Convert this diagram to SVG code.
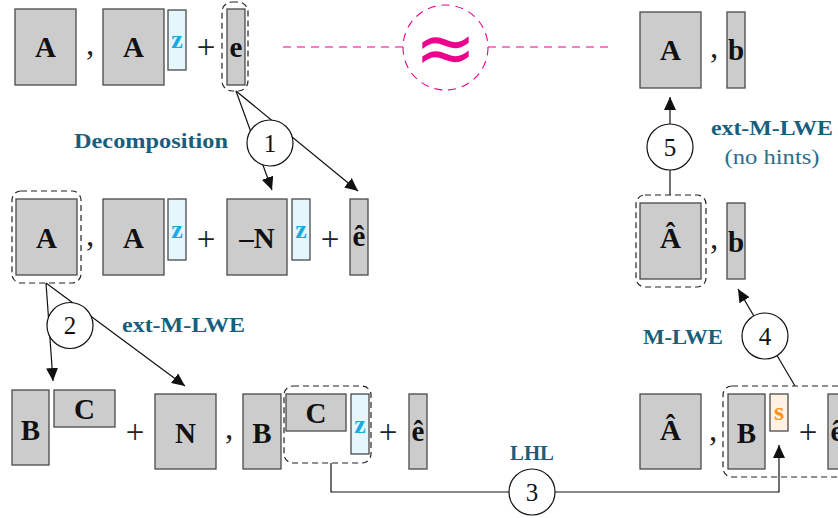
<svg xmlns="http://www.w3.org/2000/svg" width="838" height="518" viewBox="0 0 838 518">
<defs>
<marker id="arr" markerUnits="userSpaceOnUse" markerWidth="14" markerHeight="12" refX="13" refY="6" orient="auto">
<path d="M0,0 L13,6 L0,12 Z" fill="#111"/>
</marker>
<style>
.box{fill:#cccccc;stroke:#4a4a4a;stroke-width:1.3}
.zb{fill:#e6f6fd;stroke:#4a4a4a;stroke-width:1.3}
.sb{fill:#fff2e5;stroke:#4a4a4a;stroke-width:1.3}
.dash{fill:none;stroke:#222;stroke-width:1.2;stroke-dasharray:6 4}
.t{font-family:"Liberation Serif",serif;font-weight:bold;font-size:29px;text-anchor:middle;dominant-baseline:central;fill:#111}
.zt{font-family:"Liberation Serif",serif;font-weight:bold;font-size:26px;text-anchor:middle;dominant-baseline:central;fill:#1aa9e1}
.st{font-family:"Liberation Serif",serif;font-weight:bold;font-size:26px;text-anchor:middle;dominant-baseline:central;fill:#f7941d}
.op{font-family:"Liberation Serif",serif;font-size:33px;text-anchor:middle;dominant-baseline:central;fill:#222}
.lbl{font-family:"Liberation Serif",serif;font-weight:bold;font-size:21px;fill:#185f7e;text-anchor:middle}
.sub{font-family:"Liberation Serif",serif;font-size:20px;fill:#2a6f8c;text-anchor:middle}
.num{font-family:"Liberation Serif",serif;font-size:25px;text-anchor:middle;dominant-baseline:central;fill:#111}
.conn{stroke:#111;stroke-width:1.2;fill:none}
.circ{fill:#fff;stroke:#111;stroke-width:1.2}
.pink{fill:none;stroke:#ec008c;stroke-width:1.1;stroke-dasharray:8 6}
</style>
</defs>

<!-- top row left -->
<g id="top-A1"><rect class="box" x="15" y="9" width="61" height="76"/><text class="t" x="45.5" y="47">A</text></g>
<text class="op" x="90" y="44">,</text>
<g id="top-A2"><rect class="box" x="103" y="9" width="61" height="76"/><text class="t" x="133.5" y="47">A</text></g>
<g id="top-z"><rect class="zb" x="168" y="10" width="18" height="60"/><text class="zt" x="177" y="39">z</text></g>
<text class="op" x="206" y="47">+</text>
<g id="top-e"><rect class="box" x="227" y="9" width="18" height="76"/><text class="t" x="236" y="47">e</text>
<rect class="dash" x="222" y="2" width="26" height="89" rx="10"/></g>

<!-- approx -->
<g id="approx">
<line class="pink" x1="283" y1="47" x2="403" y2="47"/>
<line class="pink" x1="488" y1="47" x2="608" y2="47"/>
<circle cx="445.5" cy="47.5" r="42.5" fill="none" stroke="#ec008c" stroke-width="1.1" stroke-dasharray="8 6"/>
<text x="445.5" y="47" font-family="DejaVu Sans, sans-serif" font-size="74" fill="#ec008c" text-anchor="middle" dominant-baseline="central">≈</text>
</g>

<!-- top right -->
<g id="tr-A"><rect class="box" x="640" y="12" width="61" height="76"/><text class="t" x="670.5" y="50">A</text></g>
<text class="op" x="714" y="47">,</text>
<g id="tr-b"><rect class="box" x="727" y="12" width="18" height="76"/><text class="t" x="736" y="50">b</text></g>

<!-- middle row left -->
<g id="mid-A1"><rect class="box" x="16" y="199" width="61" height="76"/><text class="t" x="46.5" y="238">A</text>
<rect class="dash" x="12" y="191" width="69" height="92" rx="9"/></g>
<text class="op" x="90" y="235">,</text>
<g id="mid-A2"><rect class="box" x="103" y="199" width="61" height="76"/><text class="t" x="133.5" y="238">A</text></g>
<g id="mid-z1"><rect class="zb" x="168" y="199" width="18" height="61"/><text class="zt" x="177" y="229">z</text></g>
<text class="op" x="206" y="239">+</text>
<g id="mid-N"><rect class="box" x="227" y="199" width="60" height="76"/><text class="t" x="257" y="238">–N</text></g>
<g id="mid-z2"><rect class="zb" x="292" y="199" width="18" height="61"/><text class="zt" x="301" y="229">z</text></g>
<text class="op" x="330" y="239">+</text>
<g id="mid-ehat"><rect class="box" x="350" y="199" width="18" height="76"/><text class="t" x="359" y="236">ê</text></g>

<!-- middle right -->
<g id="mr-Ahat"><rect class="box" x="640" y="203" width="61" height="76"/><text class="t" x="670.5" y="238">Â</text>
<rect class="dash" x="636" y="195" width="70" height="92" rx="9"/></g>
<text class="op" x="714" y="238">,</text>
<g id="mr-b"><rect class="box" x="727" y="203" width="18" height="76"/><text class="t" x="736" y="242">b</text></g>

<!-- bottom row left -->
<g id="bot-B1"><rect class="box" x="12" y="390" width="37" height="75"/><text class="t" x="30.5" y="430">B</text></g>
<g id="bot-C1"><rect class="box" x="54" y="390" width="61" height="37"/><text class="t" x="84.5" y="409">C</text></g>
<text class="op" x="135" y="432">+</text>
<g id="bot-N"><rect class="box" x="155" y="394" width="61" height="75"/><text class="t" x="185.5" y="433">N</text></g>
<text class="op" x="229" y="428">,</text>
<g id="bot-B2"><rect class="box" x="243" y="394" width="38" height="75"/><text class="t" x="262" y="433">B</text></g>
<g id="bot-C2"><rect class="box" x="286" y="394" width="60" height="37"/><text class="t" x="316" y="413">C</text></g>
<g id="bot-z"><rect class="zb" x="351" y="394" width="18" height="60"/><text class="zt" x="360" y="424">z</text></g>
<rect id="bot-group" class="dash" x="284" y="386" width="87" height="77" rx="9"/>
<text class="op" x="388" y="432">+</text>
<g id="bot-ehat"><rect class="box" x="409" y="394" width="18" height="75"/><text class="t" x="418" y="431">ê</text></g>

<!-- bottom right -->
<g id="br-Ahat"><rect class="box" x="640" y="394" width="61" height="75"/><text class="t" x="670.5" y="430">Â</text></g>
<text class="op" x="713" y="430">,</text>
<g id="br-B"><rect class="box" x="728" y="394" width="37" height="75"/><text class="t" x="746.5" y="433">B</text></g>
<g id="br-s"><rect class="sb" x="770" y="394" width="18" height="37"/><text class="st" x="779" y="411">s</text></g>
<text class="op" x="808" y="432">+</text>
<g id="br-ehat"><rect class="box" x="828" y="394" width="18" height="75"/><text class="t" x="837" y="431">ê</text></g>
<rect id="br-group" class="dash" x="723" y="386" width="130" height="91" rx="9"/>

<!-- connectors -->
<g id="connectors">
<line class="conn" x1="236" y1="91" x2="272" y2="190" marker-end="url(#arr)"/>
<line class="conn" x1="236" y1="91" x2="358" y2="191" marker-end="url(#arr)"/>
<line class="conn" x1="46" y1="283" x2="53" y2="381" marker-end="url(#arr)"/>
<line class="conn" x1="46" y1="283" x2="185" y2="386" marker-end="url(#arr)"/>
<polyline class="conn" points="331,463 331,492 779,492 779,445" marker-end="url(#arr)"/>
<line class="conn" x1="795" y1="386" x2="738" y2="289" marker-end="url(#arr)"/>
<line class="conn" x1="670" y1="195" x2="670" y2="97" marker-end="url(#arr)"/>
</g>

<!-- step circles -->
<g id="step1"><circle class="circ" cx="270" cy="143" r="23"/><text class="num" x="270" y="143">1</text></g>
<g id="step2"><circle class="circ" cx="70" cy="325.5" r="23"/><text class="num" x="70" y="325.5">2</text></g>
<g id="step3"><circle class="circ" cx="532" cy="492" r="23"/><text class="num" x="532" y="492">3</text></g>
<g id="step4"><circle class="circ" cx="765" cy="336" r="23"/><text class="num" x="765" y="336">4</text></g>
<g id="step5"><circle class="circ" cx="670" cy="147" r="23"/><text class="num" x="670" y="147">5</text></g>

<!-- labels -->
<text class="lbl" x="151" y="148" textLength="154" lengthAdjust="spacingAndGlyphs">Decomposition</text>
<text class="lbl" x="183.5" y="332" textLength="123" lengthAdjust="spacingAndGlyphs">ext-M-LWE</text>
<text class="lbl" x="772" y="135" textLength="122" lengthAdjust="spacingAndGlyphs">ext-M-LWE</text>
<text class="sub" x="772" y="164" textLength="95" lengthAdjust="spacingAndGlyphs">(no hints)</text>
<text class="lbl" x="683" y="344" textLength="80" lengthAdjust="spacingAndGlyphs">M-LWE</text>
<text class="lbl" x="532" y="460" textLength="44" lengthAdjust="spacingAndGlyphs">LHL</text>
</svg>
